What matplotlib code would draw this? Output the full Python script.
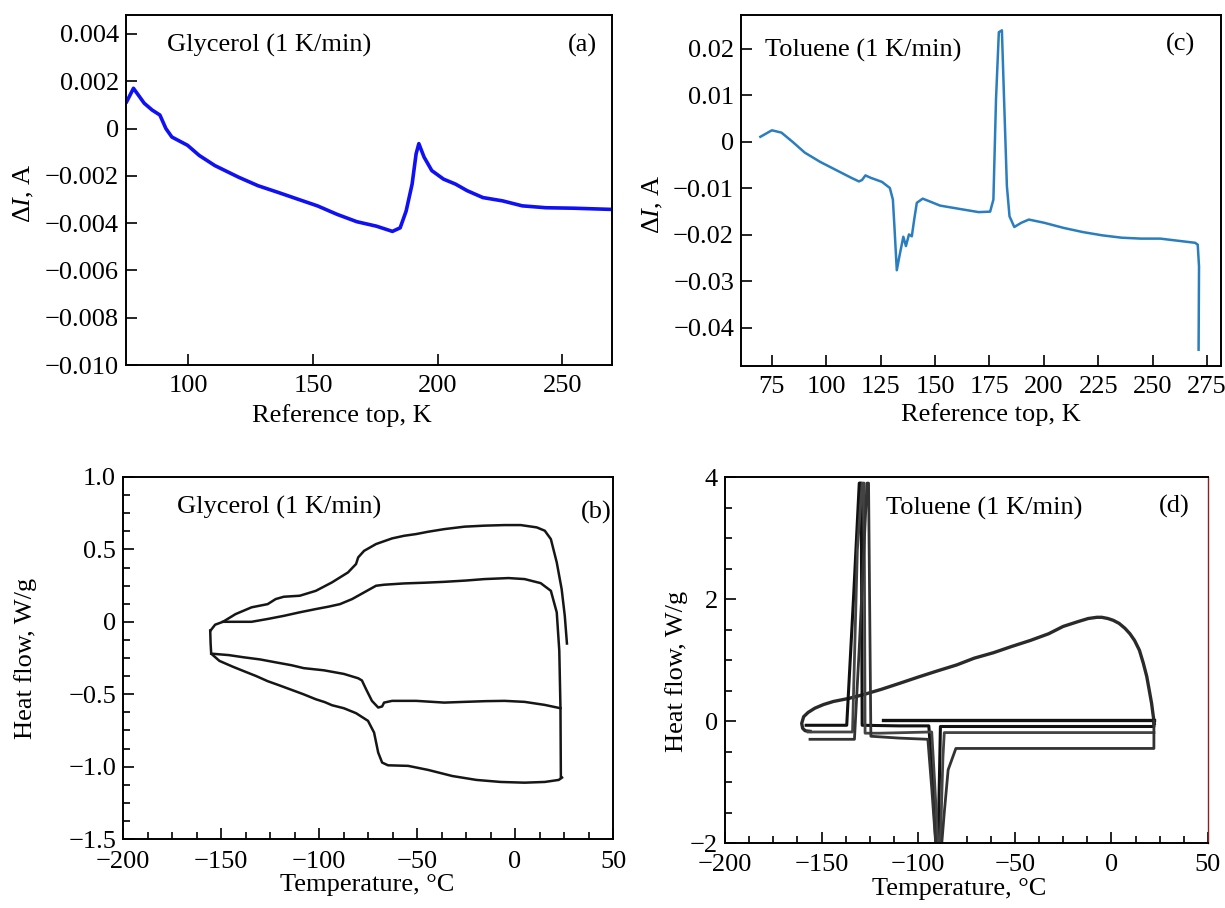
import numpy as np
import matplotlib.pyplot as plt
from matplotlib.ticker import MultipleLocator

plt.rcParams['font.family'] = ['Liberation Serif', 'DejaVu Serif']
plt.rcParams['font.size'] = 19
plt.rcParams['mathtext.fontset'] = 'custom'
plt.rcParams['mathtext.rm'] = 'Liberation Serif'
plt.rcParams['mathtext.it'] = 'Liberation Serif:italic'

# (a) glycerol, current difference vs reference top temperature
gly_K = [75.3, 78, 82.3, 85.5, 88.6, 91, 93.4, 99.7, 104.4, 110.7, 120.2, 128, 136, 144,
         151.8, 159.7, 167.6, 175.5, 181.9, 185, 187.4, 189.8, 191.4, 192.5, 194.6, 197.7,
         202.4, 207.2, 211.9, 218.2, 226.1, 234, 243.5, 254.6, 269.6]
gly_dI = [0.00114, 0.0017, 0.00107, 0.00078, 0.00057, 0.0, -0.00036, -0.00071, -0.00114,
          -0.00157, -0.00206, -0.00242, -0.0027, -0.00299, -0.00327, -0.00363, -0.00394,
          -0.00413, -0.00435, -0.0042, -0.00349, -0.00235, -0.00107, -0.00064, -0.00121,
          -0.00178, -0.00214, -0.00235, -0.00263, -0.00292, -0.00306, -0.00327, -0.00335,
          -0.00337, -0.00342]

# (c) toluene
tol_K = [69.7, 75, 79.4, 84.8, 90.1, 97.2, 104.3, 111.4, 115, 116.4, 118, 120.3, 125.6,
         129.2, 130.6, 131.3, 132.4, 133.6, 135.4, 136.6, 138, 139.3, 140.4, 141.6, 144.3,
         147, 152.3, 161.1, 170, 175.3, 176.8, 178, 179.3, 180.7, 181.7, 183, 184.2, 186.4,
         189.6, 193.1, 200.2, 209.1, 218, 226.9, 235.7, 244.6, 253.5, 260.6, 269.5, 270.7,
         271.3, 271.1]
tol_dI = [0.0011, 0.0025, 0.002, -0.0001, -0.0023, -0.0043, -0.006, -0.0077, -0.0085,
          -0.0082, -0.0072, -0.0077, -0.0086, -0.0099, -0.0124, -0.0181, -0.0276, -0.0246,
          -0.0204, -0.0224, -0.0199, -0.0203, -0.0167, -0.0131, -0.0122, -0.0127, -0.0137,
          -0.0144, -0.0151, -0.015, -0.0124, 0.0092, 0.0236, 0.024, 0.0092, -0.0095, -0.016,
          -0.0183, -0.0174, -0.0167, -0.0174, -0.0185, -0.0194, -0.0201, -0.0206, -0.0208,
          -0.0208, -0.0212, -0.0217, -0.0221, -0.0268, -0.0447]

# (b) glycerol DSC, four branches
b_top_out_T = [-155.3, -153, -149, -142.6, -134.4, -126.2, -122.1, -118, -109.8, -101.6,
               -93.4, -85.2, -81.1, -80, -77, -70.9, -62.7, -56.6, -50.4, -44.3, -36.1,
               -25.8, -15.6, -5.3, 2.9, 11.1, 15.2, 18.3, 21.3, 23.8, 25.4, 26.5]
b_top_out_Q = [-0.06, -0.02, 0.0, 0.053, 0.1, 0.122, 0.157, 0.173, 0.18, 0.214, 0.272,
               0.341, 0.399, 0.445, 0.49, 0.537, 0.576, 0.594, 0.606, 0.622, 0.64, 0.657,
               0.664, 0.668, 0.668, 0.652, 0.629, 0.571, 0.41, 0.226, 0.041, -0.15]
b_top_in_T = [-149, -140, -134.4, -126, -118, -110, -101.6, -95, -89.3, -83.1, -77, -70.9,
              -66.8, -56.6, -46, -36.1, -25, -15.6, -3.3, 4.9, 13.1, 18.3, 21.3, 22.6,
              23.2, 23.4]
b_top_in_Q = [0.0, 0.0, 0.0, 0.02, 0.041, 0.065, 0.088, 0.105, 0.122, 0.157, 0.203, 0.249,
              0.256, 0.265, 0.27, 0.276, 0.285, 0.295, 0.302, 0.295, 0.267, 0.214, 0.065,
              -0.2, -0.6, -1.07]
b_bot_in_T = [-155, -146, -138.5, -130, -122.1, -114, -107.8, -97.5, -87.3, -80, -78.1,
              -76, -73, -69.8, -67.8, -66.8, -62.7, -50.4, -36.1, -25.8, -15, -5.3, 4.9,
              15.2, 23.2]
b_bot_in_Q = [-0.22, -0.23, -0.245, -0.26, -0.28, -0.3, -0.32, -0.335, -0.36, -0.39,
              -0.405, -0.465, -0.546, -0.592, -0.585, -0.558, -0.546, -0.546, -0.558,
              -0.553, -0.548, -0.546, -0.553, -0.574, -0.597]
b_bot_out_T = [-155.5, -155.3, -155, -150.8, -144, -138.5, -132, -126.2, -120, -114, -108,
               -101.6, -97, -93.4, -87.3, -81.1, -75, -71.9, -69.8, -67.8, -64.8, -54.5,
               -44.3, -32, -19.7, -7.4, 4.9, 15.2, 22.3, 24]
b_bot_out_Q = [-0.06, -0.15, -0.22, -0.27, -0.31, -0.34, -0.375, -0.41, -0.44, -0.47, -0.5,
               -0.535, -0.555, -0.576, -0.597, -0.631, -0.684, -0.765, -0.903, -0.972,
               -0.991, -0.995, -1.023, -1.065, -1.092, -1.106, -1.111, -1.106, -1.092, -1.076]

# (d) toluene DSC: cooling loop and three heating runs
d_cool_T = [22.2, 21.5, 20.8, 19.5, 18.3, 16.5, 14.5, 12, 9.6, 7, 4, 1, -1.8, -5, -7.5,
            -12, -17.2, -25, -32.5, -42, -51.8, -61, -71, -80, -90.2, -100, -109.4, -119,
            -128.6, -136, -143.9, -149, -153.5, -157, -159.3, -160.3, -159.8, -158.5, -156]
d_cool_Q = [-0.04, 0.12, 0.29, 0.52, 0.73, 0.95, 1.16, 1.32, 1.43, 1.52, 1.6, 1.65, 1.68,
            1.7, 1.7, 1.68, 1.63, 1.55, 1.43, 1.32, 1.22, 1.12, 1.03, 0.92, 0.82, 0.72,
            0.62, 0.52, 0.43, 0.37, 0.32, 0.27, 0.21, 0.14, 0.07, -0.04, -0.12, -0.16, -0.17]
d_base_T = [-118, 22]
d_base_Q = [0.02, 0.02]
d_h1_T = [-158, -137, -133.5, -130.5, -129.5, -129, -110, -94.5, -92.5, -90.5, -89.8, -88.5,
          -60, 0, 22, 22]
d_h1_Q = [-0.07, -0.07, 2.0, 3.9, 3.9, -0.07, -0.08, -0.08, -1.0, -2.2, -2.2, -0.09,
          -0.09, -0.09, -0.09, 0.0]
d_h2_T = [-157, -134, -131.5, -129, -128, -127.5, -120, -93, -91.5, -89.5, -88.7, -87.2,
          -86.5, -60, 0, 22]
d_h2_Q = [-0.18, -0.18, 2.8, 3.9, 3.9, -0.2, -0.2, -0.18, -1.0, -2.2, -2.2, -0.6,
          -0.19, -0.19, -0.19, -0.19]
d_h3_T = [-156, -133, -130.5, -126.5, -125.7, -124.5, -110, -95, -93, -90.5, -88.3, -86.5,
          -84.5, -80.5, -70, 0, 22, 22]
d_h3_Q = [-0.3, -0.3, 1.2, 3.9, 3.9, -0.25, -0.28, -0.3, -1.1, -2.2, -2.2, -1.5, -0.8,
          -0.45, -0.45, -0.45, -0.45, 0.0]

W, H = 1225, 908
fig = plt.figure(figsize=(W / 100, H / 100), dpi=100)


def box(left, top, right, bottom):
    return fig.add_axes([left / W, 1 - bottom / H, (right - left) / W, (bottom - top) / H])


def style(ax, xpad=5):
    for s in ax.spines.values():
        s.set_linewidth(1.4)
    ax.tick_params(which='major', direction='in', length=8, width=1.2, pad=5)
    ax.tick_params(which='minor', direction='in', length=5, width=1.2)
    ax.tick_params(axis='x', which='major', pad=xpad)


ax_a = box(126, 15, 612, 365)
ax_c = box(741, 15, 1221, 366)
ax_b = box(123, 477, 613, 839)
ax_d = box(725, 477, 1208, 843)

# (a)
ax_a.plot(gly_K, gly_dI, color='#1010f5', lw=2.6)
ax_a.set_xlim(75, 270)
ax_a.set_ylim(-0.010, 0.0048)
ax_a.set_xticks([100, 150, 200, 250])
ax_a.set_yticks([-0.010, -0.008, -0.006, -0.004, -0.002, 0, 0.002, 0.004])
ax_a.set_yticklabels(['\u22120.010', '\u22120.008', '\u22120.006', '\u22120.004',
                      '\u22120.002', '0', '0.002', '0.004'])
ax_a.set_xlabel('Reference top, K')
ax_a.set_ylabel(r'$\Delta I$, A')
ax_a.xaxis.set_label_coords(0.444, -0.112)
ax_a.yaxis.set_label_coords(-0.185, 0.49)
ax_a.text(0.084, 0.914, 'Glycerol (1 K/min)', transform=ax_a.transAxes, va='center')
ax_a.text(0.94, 0.914, '(a)', transform=ax_a.transAxes, va='center', ha='center')
style(ax_a, xpad=7)

# (c)
ax_c.plot(tol_K, tol_dI, color='#2a7dbf', lw=1.8)
ax_c.set_xlim(60.8, 281.4)
ax_c.set_ylim(-0.0482, 0.0273)
ax_c.set_xticks([75, 100, 125, 150, 175, 200, 225, 250, 275])
ax_c.set_yticks([-0.04, -0.03, -0.02, -0.01, 0, 0.01, 0.02])
ax_c.set_yticklabels(['\u22120.04', '\u22120.03', '\u22120.02', '\u22120.01', '0',
                      '0.01', '0.02'])
ax_c.set_xlabel('Reference top, K')
ax_c.set_ylabel(r'$\Delta I$, A')
ax_c.xaxis.set_label_coords(0.52, -0.105)
ax_c.yaxis.set_label_coords(-0.158, 0.46)
ax_c.text(0.05, 0.90, 'Toluene (1 K/min)', transform=ax_c.transAxes, va='center')
ax_c.text(0.915, 0.915, '(c)', transform=ax_c.transAxes, va='center', ha='center')
style(ax_c, xpad=7)

# (b)
for T, Q in [(b_top_out_T, b_top_out_Q), (b_top_in_T, b_top_in_Q),
             (b_bot_in_T, b_bot_in_Q), (b_bot_out_T, b_bot_out_Q)]:
    ax_b.plot(T, Q, color='#161616', lw=1.8)
ax_b.set_xlim(-200, 50)
ax_b.set_ylim(-1.5, 1.0)
ax_b.xaxis.set_major_locator(MultipleLocator(50))
ax_b.xaxis.set_minor_locator(MultipleLocator(12.5))
ax_b.yaxis.set_minor_locator(MultipleLocator(0.125))
ax_b.set_yticks([-1.5, -1.0, -0.5, 0, 0.5, 1.0])
ax_b.set_yticklabels(['\u22121.5', '\u22121.0', '\u22120.5', '0', '0.5', '1.0'])
ax_b.set_xlabel('Temperature, \u00b0C')
ax_b.set_ylabel('Heat flow, W/g')
ax_b.xaxis.set_label_coords(0.498, -0.098)
ax_b.yaxis.set_label_coords(-0.176, 0.5)
ax_b.text(0.11, 0.917, 'Glycerol (1 K/min)', transform=ax_b.transAxes, va='center')
ax_b.text(0.965, 0.903, '(b)', transform=ax_b.transAxes, va='center', ha='center')
style(ax_b, xpad=9)

# (d)
ax_d.plot(d_cool_T, d_cool_Q, color='#2a2a2a', lw=2.4)
ax_d.plot(d_base_T, d_base_Q, color='#111111', lw=2.4)
ax_d.plot(d_h1_T, d_h1_Q, color='#111111', lw=2.2)
ax_d.plot(d_h2_T, d_h2_Q, color='#444444', lw=2.0)
ax_d.plot(d_h3_T, d_h3_Q, color='#333333', lw=2.0)
ax_d.set_xlim(-200, 50)
ax_d.set_ylim(-2, 4)
ax_d.xaxis.set_major_locator(MultipleLocator(50))
ax_d.xaxis.set_minor_locator(MultipleLocator(12.5))
ax_d.yaxis.set_minor_locator(MultipleLocator(0.5))
ax_d.set_yticks([-2, 0, 2, 4])
ax_d.set_yticklabels(['\u22122', '0', '2', '4'])
ax_d.set_xlabel('Temperature, \u00b0C')
ax_d.set_ylabel('Heat flow, W/g')
ax_d.xaxis.set_label_coords(0.485, -0.096)
ax_d.yaxis.set_label_coords(-0.077, 0.47)
ax_d.text(0.333, 0.915, 'Toluene (1 K/min)', transform=ax_d.transAxes, va='center')
ax_d.text(0.93, 0.92, '(d)', transform=ax_d.transAxes, va='center', ha='center')
style(ax_d, xpad=8)
ax_d.spines['right'].set_color('#8b2020')
ax_d.spines['right'].set_linewidth(1.0)

fig.savefig('out.png', dpi=100)
